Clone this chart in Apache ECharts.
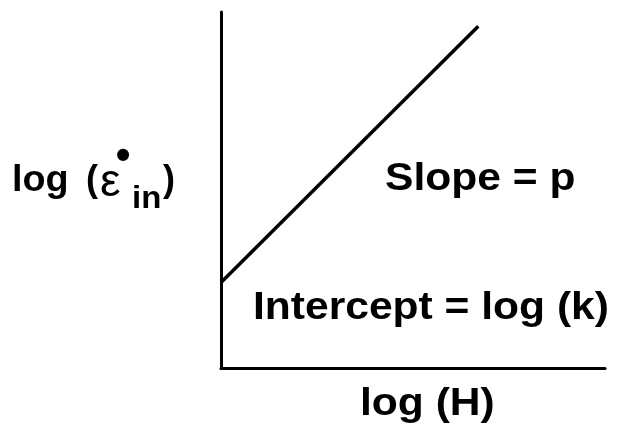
<!DOCTYPE html>
<html>
<head>
<meta charset="utf-8">
<script src="https://cdn.jsdelivr.net/npm/echarts@6/dist/echarts.min.js"></script>
<style>html,body{margin:0;padding:0;background:#fff;}#c{width:622px;height:438px;}</style>
</head>
<body>
<div id="c"></div>
<script>
var lineX = [0, 6.7];
var lineY = [2.4, 9.6];
var xTitle = 'log (H)';
var yTitleLog = 'log';
var yTitleOpen = '(';
var yTitleSym = 'ε';
var yTitleDot = '•';
var yTitleSub = 'in';
var yTitleClose = ')';
var slopeText = 'Slope = p';
var interceptText = 'Intercept = log (k)';

var FONT = '"Liberation Sans", Arial, Helvetica, sans-serif';
var SX = 1.12;
function txt(x, y, s, size, weight, sx, align) {
  return {
    type: 'text', x: x, y: y, scaleX: sx || SX,
    style: { text: s, fill: '#000', font: (weight || 'bold') + ' ' + size + 'px ' + FONT,
      textAlign: align || 'left', textVerticalAlign: 'middle' }
  };
}
var chart = echarts.init(document.getElementById('c'), null, {renderer: 'canvas'});
var axisCommon = {
  type: 'value', min: 0, max: 10,
  axisLine: { show: true, lineStyle: { color: '#000', width: 3 } },
  axisTick: { show: false }, axisLabel: { show: false }, splitLine: { show: false }
};
chart.setOption({
  animation: false,
  backgroundColor: '#fff',
  grid: { left: 221, right: 17, top: 12, bottom: 70 },
  xAxis: axisCommon,
  yAxis: axisCommon,
  series: [{
    type: 'line',
    data: lineX.map(function (v, i) { return [v, lineY[i]]; }),
    symbol: 'none',
    lineStyle: { color: '#000', width: 3.5 }
  }],
  graphic: [
    txt(385, 180, slopeText, 38),
    txt(253, 309, interceptText, 38),
    txt(360, 405, xTitle, 38),
    txt(12, 181, yTitleLog, 36, 'bold', 1.05),
    txt(86, 181, yTitleOpen, 36, 'bold', 1),
    txt(100, 183, yTitleSym, 46, 'normal', 1),
    txt(123, 157, yTitleDot, 42, 'bold', 1, 'center'),
    txt(132, 199, yTitleSub, 32, 'bold', 1.03),
    txt(163, 181, yTitleClose, 36, 'bold', 1)
  ]
});
</script>
</body>
</html>
